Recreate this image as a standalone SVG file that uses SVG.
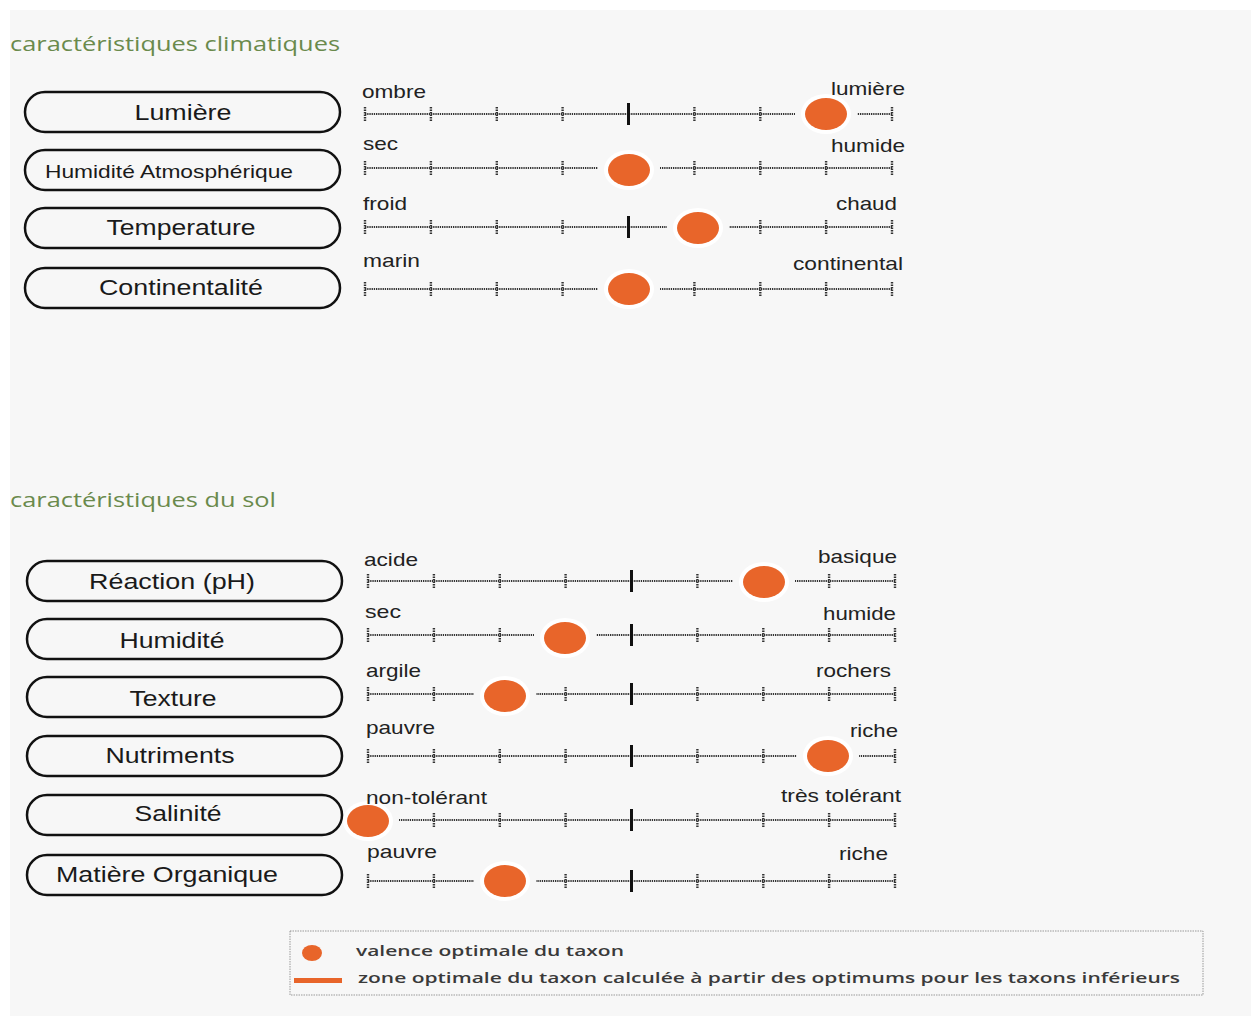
<svg xmlns="http://www.w3.org/2000/svg" xmlns:xlink="http://www.w3.org/1999/xlink" width="1251" height="1016" viewBox="0 0 1251 1016">
<style>
.title{font-family:"Open Sans","Noto Sans",sans-serif;font-size:20px;fill:#6a8a4c}
.node rect{fill:none;stroke:#111;stroke-width:2.5}
.nt{font-family:"Liberation Sans",Arial,sans-serif;font-size:22px;fill:#1a1a1a;text-anchor:middle}
.lb{font-family:"Liberation Sans",Arial,sans-serif;font-size:19px;fill:#222}
.lg{font-family:"Open Sans","Noto Sans",sans-serif;font-size:14px;font-weight:600;fill:#3a3a3a}
.ax{stroke:#333;stroke-width:1.8;stroke-dasharray:1.3 0.9;fill:none}
.tk{stroke:#333;stroke-width:2.4;stroke-dasharray:1.5 1;fill:none}
.big{stroke:#111;stroke-width:3;fill:none}
.hole{fill:#f7f7f7}
.halo{fill:#ffffff}
.dot{fill:#e8652a}
</style>
<defs>
<g id="scale">
<line class="ax" x1="0" y1="0" x2="527" y2="0"/>
<line class="tk" x1="0" y1="-7" x2="0" y2="7"/>
<line class="tk" x1="65.9" y1="-7" x2="65.9" y2="7"/>
<line class="tk" x1="131.8" y1="-7" x2="131.8" y2="7"/>
<line class="tk" x1="197.6" y1="-7" x2="197.6" y2="7"/>
<line class="big" x1="263.5" y1="-11" x2="263.5" y2="11"/>
<line class="tk" x1="329.4" y1="-7" x2="329.4" y2="7"/>
<line class="tk" x1="395.3" y1="-7" x2="395.3" y2="7"/>
<line class="tk" x1="461.1" y1="-7" x2="461.1" y2="7"/>
<line class="tk" x1="527" y1="-7" x2="527" y2="7"/>
</g>
<g id="mark">
<rect class="hole" x="-31" y="-12" width="62" height="24"/>
<ellipse class="halo" cx="0" cy="0" rx="25" ry="20"/>
<ellipse class="dot" cx="0" cy="0" rx="21" ry="16"/>
</g>
<g id="markL">
<rect class="hole" x="0" y="-12" width="31" height="24"/>
<ellipse class="halo" cx="0" cy="0" rx="25" ry="20"/>
<ellipse class="dot" cx="0" cy="0" rx="21" ry="16"/>
</g>
</defs>
<rect x="0" y="0" width="1251" height="1016" fill="#ffffff"/>
<rect x="10" y="10" width="1241" height="1006" fill="#f7f7f7"/>

<text class="title" x="10" y="51" textLength="330" lengthAdjust="spacingAndGlyphs">caractéristiques climatiques</text>
<text class="title" x="10" y="507" textLength="266" lengthAdjust="spacingAndGlyphs">caractéristiques du sol</text>

<g id="connectors">
<use xlink:href="#scale" href="#scale" x="365" y="114"/>
<use xlink:href="#scale" href="#scale" x="365" y="168"/>
<use xlink:href="#scale" href="#scale" x="365" y="227"/>
<use xlink:href="#scale" href="#scale" x="365" y="289"/>
<use xlink:href="#scale" href="#scale" x="368" y="581"/>
<use xlink:href="#scale" href="#scale" x="368" y="635"/>
<use xlink:href="#scale" href="#scale" x="368" y="694"/>
<use xlink:href="#scale" href="#scale" x="368" y="756"/>
<use xlink:href="#scale" href="#scale" x="368" y="820"/>
<use xlink:href="#scale" href="#scale" x="368" y="881"/>
</g>

<g id="markers">
<use xlink:href="#mark" href="#mark" x="826" y="114"/>
<use xlink:href="#mark" href="#mark" x="629" y="170"/>
<use xlink:href="#mark" href="#mark" x="698" y="228"/>
<use xlink:href="#mark" href="#mark" x="629" y="289"/>
<use xlink:href="#mark" href="#mark" x="764" y="582"/>
<use xlink:href="#mark" href="#mark" x="565" y="638"/>
<use xlink:href="#mark" href="#mark" x="505" y="696"/>
<use xlink:href="#mark" href="#mark" x="828" y="756"/>
<use xlink:href="#markL" href="#markL" x="368" y="821"/>
<use xlink:href="#mark" href="#mark" x="505" y="881"/>
</g>

<g id="node-lumiere" class="node"><rect x="25" y="92" width="315" height="40" rx="20"/><text class="nt" x="183" y="120" textLength="97" lengthAdjust="spacingAndGlyphs">Lumière</text></g>
<g id="node-humidite-atm" class="node"><rect x="25" y="150" width="315" height="40" rx="20"/><text class="nt" x="169" y="178" style="font-size:19px" textLength="248" lengthAdjust="spacingAndGlyphs">Humidité Atmosphérique</text></g>
<g id="node-temperature" class="node"><rect x="25" y="208" width="315" height="40" rx="20"/><text class="nt" x="181" y="235" textLength="149" lengthAdjust="spacingAndGlyphs">Temperature</text></g>
<g id="node-continentalite" class="node"><rect x="25" y="268" width="315" height="40" rx="20"/><text class="nt" x="181" y="295" textLength="164" lengthAdjust="spacingAndGlyphs">Continentalité</text></g>

<g id="node-reaction" class="node"><rect x="27" y="561" width="315" height="40" rx="20"/><text class="nt" x="172" y="589" textLength="166" lengthAdjust="spacingAndGlyphs">Réaction (pH)</text></g>
<g id="node-humidite" class="node"><rect x="27" y="619" width="315" height="40" rx="20"/><text class="nt" x="172" y="648" textLength="105" lengthAdjust="spacingAndGlyphs">Humidité</text></g>
<g id="node-texture" class="node"><rect x="27" y="677" width="315" height="40" rx="20"/><text class="nt" x="173" y="706" textLength="87" lengthAdjust="spacingAndGlyphs">Texture</text></g>
<g id="node-nutriments" class="node"><rect x="27" y="736" width="315" height="40" rx="20"/><text class="nt" x="170" y="763" textLength="129" lengthAdjust="spacingAndGlyphs">Nutriments</text></g>
<g id="node-salinite" class="node"><rect x="27" y="795" width="315" height="40" rx="20"/><text class="nt" x="178" y="821" textLength="87" lengthAdjust="spacingAndGlyphs">Salinité</text></g>
<g id="node-matiere" class="node"><rect x="27" y="855" width="315" height="40" rx="20"/><text class="nt" x="167" y="882" textLength="222" lengthAdjust="spacingAndGlyphs">Matière Organique</text></g>

<g id="labels">
<text class="lb" x="362" y="98" textLength="64" lengthAdjust="spacingAndGlyphs">ombre</text>
<text class="lb" x="831" y="95" textLength="74" lengthAdjust="spacingAndGlyphs">lumière</text>
<text class="lb" x="363" y="150" textLength="35" lengthAdjust="spacingAndGlyphs">sec</text>
<text class="lb" x="831" y="152" textLength="74" lengthAdjust="spacingAndGlyphs">humide</text>
<text class="lb" x="363" y="210" textLength="44" lengthAdjust="spacingAndGlyphs">froid</text>
<text class="lb" x="836" y="210" textLength="61" lengthAdjust="spacingAndGlyphs">chaud</text>
<text class="lb" x="363" y="267" textLength="57" lengthAdjust="spacingAndGlyphs">marin</text>
<text class="lb" x="793" y="270" textLength="110" lengthAdjust="spacingAndGlyphs">continental</text>

<text class="lb" x="364" y="566" textLength="54" lengthAdjust="spacingAndGlyphs">acide</text>
<text class="lb" x="818" y="563" textLength="79" lengthAdjust="spacingAndGlyphs">basique</text>
<text class="lb" x="365" y="618" textLength="36" lengthAdjust="spacingAndGlyphs">sec</text>
<text class="lb" x="823" y="620" textLength="73" lengthAdjust="spacingAndGlyphs">humide</text>
<text class="lb" x="366" y="677" textLength="55" lengthAdjust="spacingAndGlyphs">argile</text>
<text class="lb" x="816" y="677" textLength="75" lengthAdjust="spacingAndGlyphs">rochers</text>
<text class="lb" x="366" y="734" textLength="69" lengthAdjust="spacingAndGlyphs">pauvre</text>
<text class="lb" x="850" y="737" textLength="48" lengthAdjust="spacingAndGlyphs">riche</text>
<text class="lb" x="366" y="804" textLength="121" lengthAdjust="spacingAndGlyphs">non-tolérant</text>
<text class="lb" x="781" y="802" textLength="120" lengthAdjust="spacingAndGlyphs">très tolérant</text>
<text class="lb" x="367" y="858" textLength="70" lengthAdjust="spacingAndGlyphs">pauvre</text>
<text class="lb" x="839" y="860" textLength="49" lengthAdjust="spacingAndGlyphs">riche</text>
</g>

<g id="legend">
<rect x="290" y="931" width="913" height="64" fill="none" stroke="#999" stroke-width="1" stroke-dasharray="1.5 1"/>
<ellipse cx="312" cy="953" rx="10" ry="8" class="dot"/>
<rect x="294" y="978" width="48" height="5" class="dot"/>
<text class="lg" x="356" y="956" textLength="268" lengthAdjust="spacingAndGlyphs">valence optimale du taxon</text>
<text class="lg" x="358" y="983" textLength="822" lengthAdjust="spacingAndGlyphs">zone optimale du taxon calculée à partir des optimums pour les taxons inférieurs</text>
</g>
</svg>
